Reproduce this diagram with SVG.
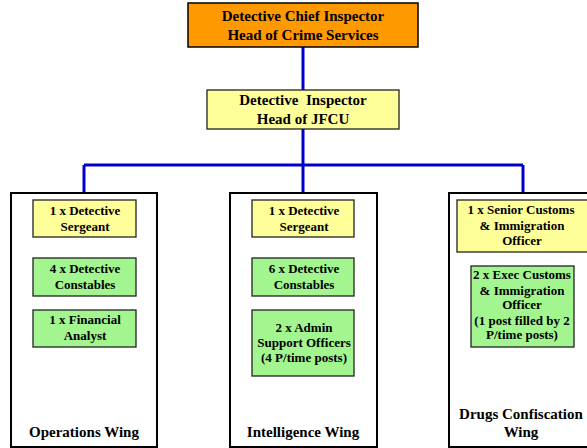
<svg xmlns="http://www.w3.org/2000/svg" width="587" height="448" viewBox="0 0 587 448">
<style>
text{font-family:"Liberation Serif","Times New Roman",serif;font-weight:bold;fill:#000;text-anchor:middle}
.t15{font-size:15px}
.t13{font-size:13px}
.wing{fill:#fff;stroke:#000;stroke-width:2}
.sub{stroke:#222;stroke-width:1.3}
.y{fill:#ffff99}
.g{fill:#a3f58f}
.o{fill:#ff9900;stroke:#000;stroke-width:1.5}
.conn{stroke:#0000cc;stroke-width:3;fill:none}
</style>
<rect width="587" height="448" fill="#fff"/>
<g id="connectors">
<path class="conn" d="M303,47 V90 M303,129 V165 M84,165 H523 M84,165 V193 M303,165 V193 M523,165 V193"/>
</g>
<g id="dci">
<rect class="o" x="188" y="3" width="230" height="44"/>
<text class="t15" x="303" y="21">Detective Chief Inspector</text>
<text class="t15" x="303" y="40">Head of Crime Services</text>
</g>
<g id="di">
<rect class="sub y" x="207" y="90" width="192" height="39" stroke-width="2"/>
<text class="t15" x="303" y="105">Detective&#160; Inspector</text>
<text class="t15" x="303" y="124">Head of JFCU</text>
</g>
<g id="ops-wing">
<rect class="wing" x="11" y="193" width="146" height="254"/>
<text class="t15" x="84" y="437">Operations Wing</text>
</g>
<g id="ops-ds">
<rect class="sub y" x="33" y="200" width="103" height="37"/>
<text class="t13" x="85" y="215">1 x Detective</text>
<text class="t13" x="85" y="231">Sergeant</text>
</g>
<g id="ops-dc">
<rect class="sub g" x="33" y="258" width="103" height="38"/>
<text class="t13" x="85" y="273">4 x Detective</text>
<text class="t13" x="85" y="289">Constables</text>
</g>
<g id="ops-fa">
<rect class="sub g" x="33" y="310" width="103" height="37"/>
<text class="t13" x="85" y="324">1 x Financial</text>
<text class="t13" x="85" y="340">Analyst</text>
</g>
<g id="int-wing">
<rect class="wing" x="230" y="193" width="147" height="254"/>
<text class="t15" x="303" y="437">Intelligence Wing</text>
</g>
<g id="int-ds">
<rect class="sub y" x="252" y="200" width="102" height="37"/>
<text class="t13" x="304" y="215">1 x Detective</text>
<text class="t13" x="304" y="231">Sergeant</text>
</g>
<g id="int-dc">
<rect class="sub g" x="252" y="258" width="102" height="38"/>
<text class="t13" x="304" y="273">6 x Detective</text>
<text class="t13" x="304" y="289">Constables</text>
</g>
<g id="int-admin">
<rect class="sub g" x="252" y="310" width="102" height="66"/>
<text class="t13" x="304" y="332">2 x Admin</text>
<text class="t13" x="304" y="347">Support Officers</text>
<text class="t13" x="304" y="362">(4 P/time posts)</text>
</g>
<g id="drugs-wing">
<rect class="wing" x="449" y="193" width="147" height="254"/>
<text class="t15" x="521" y="419">Drugs Confiscation</text>
<text class="t15" x="521" y="437">Wing</text>
</g>
<g id="drugs-senior">
<rect class="sub y" x="457" y="200" width="132" height="52"/>
<text class="t13" x="521" y="214">1 x Senior Customs</text>
<text class="t13" x="522" y="230">&amp; Immigration</text>
<text class="t13" x="522" y="245">Officer</text>
</g>
<g id="drugs-exec">
<rect class="sub g" x="471" y="266" width="103" height="81"/>
<text class="t13" x="522" y="279">2 x Exec Customs</text>
<text class="t13" x="522" y="295">&amp; Immigration</text>
<text class="t13" x="522" y="309">Officer</text>
<text class="t13" x="522" y="325">(1 post filled by 2</text>
<text class="t13" x="522" y="339">P/time posts)</text>
</g>
</svg>
